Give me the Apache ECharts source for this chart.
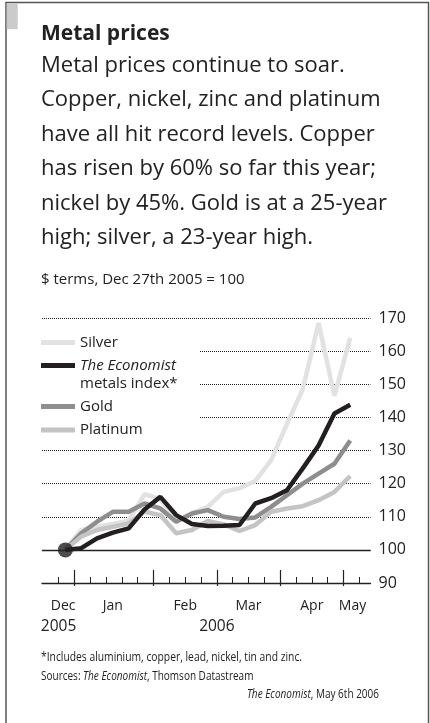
<!DOCTYPE html>
<html><head><meta charset="utf-8">
<script src="https://cdn.jsdelivr.net/npm/echarts@6/dist/echarts.min.js"></script>
<style>html,body{margin:0;padding:0;background:#fff}#c{width:430px;height:723px}</style>
</head><body><div id="c"></div>
<script>
// ---- data ----
const dates = ['2005-12-27','2006-01-03','2006-01-10','2006-01-17','2006-01-24','2006-01-31','2006-02-07','2006-02-14','2006-02-21','2006-02-28','2006-03-07','2006-03-14','2006-03-21','2006-03-28','2006-04-04','2006-04-11','2006-04-18','2006-04-25','2006-05-02'];
const silver   = [100,106,107,107.8,108.8,116.8,115.3,109,111,113,117.5,118.6,120.8,127,138,148.5,168.5,146.5,164];
const metalsIndex = [100,100.5,103.5,105.2,106.5,112.2,116,110.5,107.8,107.2,107.3,107.5,114,115.6,118,124.6,131.5,141.2,143.8];
const gold     = [100,105,108.5,111.5,111.5,114,112.5,108.5,111,112,110,109.3,109.8,113,116.5,120,123,126,133];
const platinum = [100,104,106,107,108,111.5,110.5,105,106,108.7,107.7,105.7,107.5,111.5,112.5,113.2,115,117.5,122.3];
const seriesNames = ['Silver','The Economist metals index*','Gold','Platinum'];
const weekTickDates = ['2005-12-24','2005-12-31','2006-01-07','2006-01-14','2006-01-21','2006-01-28','2006-02-04','2006-02-11','2006-02-18','2006-02-25','2006-03-04','2006-03-11','2006-03-18','2006-03-25','2006-04-01','2006-04-08','2006-04-15','2006-04-22','2006-04-29','2006-05-06'];
const monthTickDates = ['2005-12-31','2006-02-04','2006-03-04','2006-04-01','2006-04-29'];
const monthLabels = ['Dec','Jan','Feb','Mar','Apr','May'];
const monthLabelDates = ['2005-12-26','2006-01-17','2006-02-18','2006-03-18','2006-04-15','2006-05-03'];
const yearLabels = ['2005','2006'];
const yearLabelDates = ['2005-12-24','2006-03-04'];

// ---- helpers ----
const origin = Date.UTC(2005,11,24);
const dayOf = s => Math.round((Date.parse(s+'T00:00:00Z') - origin)/86400000);
const xs = dates.map(dayOf);
const pairs = arr => arr.map((v,i)=>[xs[i], v]);
const monthPos = monthLabelDates.map(dayOf);
const yearPos = yearLabelDates.map(dayOf);
const FONT = '"Open Sans", Roboto, sans-serif';
const XMIN = -7.34, XMAX = 137.96;

const chart = echarts.init(document.getElementById('c'), null, {renderer:'canvas'});
const baseX = {type:'value', min:XMIN, max:XMAX, gridIndex:0, position:'bottom', splitLine:{show:false}};
const legendCommon = {left:41, orient:'vertical', itemWidth:34, itemHeight:5, icon:'rect', padding:0, selectedMode:false, z:8,
  textStyle:{fontSize:15, color:'#222', fontFamily:FONT}};
const footFont = '12.5px ' + FONT;

chart.setOption({
  animation:false,
  backgroundColor:'#fff',
  grid:{left:42, right:59.5, top:318, bottom:140, containLabel:false},
  xAxis:[
    Object.assign({}, baseX, {
      axisLine:{show:true, lineStyle:{color:'#222', width:1.3}},
      axisTick:{show:true, inside:true, length:6, customValues:weekTickDates.map(dayOf), lineStyle:{color:'#222', width:1}},
      axisLabel:{show:true, customValues:monthPos, margin:16, fontSize:14, color:'#222', fontFamily:FONT,
        formatter:v=>monthLabels[monthPos.indexOf(Math.round(v))] || ''}
    }),
    Object.assign({}, baseX, {
      axisLine:{show:false},
      axisTick:{show:true, inside:true, length:13, customValues:monthTickDates.map(dayOf), lineStyle:{color:'#222', width:1.2}},
      axisLabel:{show:true, customValues:yearPos, margin:36, fontSize:15.5, color:'#222', fontFamily:FONT,
        formatter:v=>yearLabels[yearPos.indexOf(Math.round(v))] || ''}
    }),
    Object.assign({}, baseX, {
      axisLine:{show:false},
      axisTick:{show:true, inside:false, length:3, customValues:monthTickDates.map(dayOf), lineStyle:{color:'#222', width:1.2}},
      axisLabel:{show:false}
    })
  ],
  yAxis:{type:'value', position:'right', min:90, max:170, interval:10,
    axisLine:{show:false}, axisTick:{show:false},
    axisLabel:{margin:8, fontSize:16, color:'#222', fontFamily:FONT},
    splitLine:{show:true, showMinLine:true, showMaxLine:true, lineStyle:{color:'#222', width:1, type:'dotted'}}
  },
  legend:[
    Object.assign({}, legendCommon, {data:[seriesNames[0]], top:335}),
    Object.assign({}, legendCommon, {data:[seriesNames[1]], top:340,
      formatter:()=>'{n| }\n{i|The Economist}\n{n|metals index*}',
      textStyle:{fontSize:15, color:'#222', fontFamily:FONT,
        rich:{i:{fontStyle:'italic', fontSize:15, lineHeight:18, fontFamily:FONT, color:'#222'},
              n:{fontSize:15, lineHeight:18, fontFamily:FONT, color:'#222'}}}}),
    Object.assign({}, legendCommon, {data:[seriesNames[2]], top:399}),
    Object.assign({}, legendCommon, {data:[seriesNames[3]], top:422.5})
  ],
  series:[
    {name:seriesNames[0], type:'line', data:pairs(silver), showSymbol:false, color:'#e2e2e3', lineStyle:{width:4.5, color:'#e2e2e3'}, z:2},
    {name:seriesNames[2], type:'line', data:pairs(gold), showSymbol:false, color:'#8e8e8e', lineStyle:{width:4.5, color:'#8e8e8e'}, z:3},
    {name:seriesNames[3], type:'line', data:pairs(platinum), showSymbol:false, color:'#c4c4c4', lineStyle:{width:4.5, color:'#c4c4c4'}, z:4},
    {name:seriesNames[1], type:'line', data:pairs(metalsIndex), showSymbol:false, color:'#231f20', lineStyle:{width:4.5, color:'#231f20'}, z:5,
      markLine:{silent:true, symbol:['none','none'], label:{show:false}, lineStyle:{type:'solid', color:'#222', width:1.3}, data:[{yAxis:100}]}},
    {name:'start', type:'scatter', data:[[xs[0], metalsIndex[0]]], symbolSize:15, itemStyle:{color:'#231f20'}, z:6}
  ],
  graphic:[
    {type:'rect', shape:{x:6, y:2.5, width:422.5, height:740}, style:{fill:'none', stroke:'#555', lineWidth:1.5}, z:10, silent:true},
    {type:'rect', shape:{x:6.7, y:3.2, width:11, height:26}, style:{fill:'#cbcbcb'}, z:10, silent:true},
    {type:'rect', shape:{x:38, y:326, width:161, height:114}, style:{fill:'#fff'}, z:1, silent:true},
    {type:'text', style:{x:41, y:34, text:'Metal prices', font:'bold 21px '+FONT, fill:'#222', verticalAlign:'middle'}, z:10},
    {type:'text', style:{x:41, y:48, text:'Metal prices continue to soar.\nCopper, nickel, zinc and platinum\nhave all hit record levels. Copper\nhas risen by 60% so far this year;\nnickel by 45%. Gold is at a 25-year\nhigh; silver, a 23-year high.', font:'22px '+FONT, lineHeight:34.5, fill:'#222', verticalAlign:'top'}, z:10},
    {type:'text', style:{x:41, y:280, text:'$ terms, Dec 27th 2005 = 100', font:'15px '+FONT, fill:'#222', verticalAlign:'middle'}, z:10},
    {type:'text', x:41, y:657, scaleX:0.825, style:{x:0, y:0, text:'*Includes aluminium, copper, lead, nickel, tin and zinc.', font:footFont, fill:'#222', verticalAlign:'middle'}, z:10},
    {type:'text', x:41, y:676, scaleX:0.8, style:{x:0, y:0, text:'{n|Sources: }{i|The Economist}{n|, Thomson Datastream}', font:footFont, fill:'#222', verticalAlign:'middle',
      rich:{n:{font:footFont, fill:'#222'}, i:{font:'italic '+footFont, fill:'#222'}}}, z:10},
    {type:'text', x:379, y:694, scaleX:0.8, style:{x:0, y:0, text:'{i|The Economist}{n|, May 6th 2006}', font:footFont, fill:'#222', align:'right', verticalAlign:'middle',
      rich:{n:{font:footFont, fill:'#222'}, i:{font:'italic '+footFont, fill:'#222'}}}, z:10}
  ]
});
</script></body></html>
